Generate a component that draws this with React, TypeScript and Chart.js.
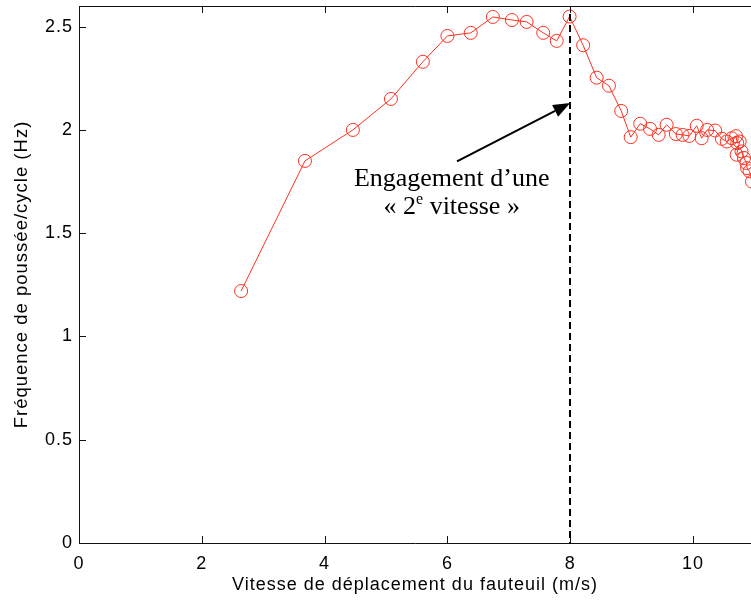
import React, { useEffect, useRef } from 'react';
import { Chart, registerables } from 'chart.js';

Chart.register(...registerables);

// Data
const vitesse = [
  2.64, 3.68, 4.46, 5.08, 5.6, 6.0, 6.38, 6.74, 7.05, 7.29, 7.56, 7.78, 7.99,
  8.21, 8.43, 8.63, 8.83, 8.985, 9.14, 9.3, 9.44, 9.57, 9.72, 9.83, 9.94, 10.06,
  10.14, 10.23, 10.36, 10.47, 10.55, 10.63, 10.7, 10.72, 10.76, 10.71, 10.79,
  10.83, 10.87, 10.88, 10.92, 10.96, 11.15,
];
const frequence = [
  1.22, 1.85, 2.0, 2.15, 2.33, 2.455, 2.47, 2.547, 2.532, 2.523, 2.47, 2.431,
  2.549, 2.41, 2.253, 2.214, 2.092, 1.965, 2.03, 2.005, 1.976, 2.025, 1.98,
  1.976, 1.971, 2.02, 1.96, 2.0, 1.997, 1.957, 1.944, 1.96, 1.97, 1.936, 1.944,
  1.88, 1.896, 1.864, 1.84, 1.815, 1.8, 1.75, 1.5,
];
const xTicks = [0, 2, 4, 6, 8, 10];
const yTicks = [0, 0.5, 1, 1.5, 2, 2.5];
const xRange = [0, 10.944];
const yRange = [0, 2.6];
const xTitle = 'Vitesse de déplacement du fauteuil (m/s)';
const yTitle = 'Fréquence de poussée/cycle (Hz)';

// Annotation (data coordinates)
const changeVitesse = 8;
const arrowTail = [6.156, 1.848];
const arrowTip = [8.0, 2.13];
const noteAnchor = [6.07, 1.727, 1.592];
const noteLine1 = 'Engagement d’une';
const noteLine2 = ['« 2', 'e', ' vitesse »'];

const RED = 'rgb(255,48,32)';
const SANS = '"Liberation Sans", Arial, sans-serif';
const SERIF = '"Liberation Serif", "Times New Roman", serif';

const framePlugin = {
  id: 'frame',
  beforeDraw(chart: any) {
    chart.ctx.letterSpacing = '1px';
  },
  afterDraw(chart: any) {
    const { ctx, chartArea: a, scales } = chart;
    const x = scales.x;
    const y = scales.y;
    ctx.save();
    ctx.letterSpacing = '0px';
    ctx.strokeStyle = '#111';
    ctx.lineWidth = 1;
    ctx.setLineDash([]);
    ctx.beginPath();
    ctx.moveTo(a.left + 0.5, a.top + 0.5);
    ctx.lineTo(a.right + 1, a.top + 0.5);
    ctx.moveTo(a.left + 0.5, a.top + 0.5);
    ctx.lineTo(a.left + 0.5, a.bottom + 0.5);
    ctx.lineTo(a.right + 1, a.bottom + 0.5);
    ctx.stroke();
    const tl = 7;
    ctx.beginPath();
    for (const v of xTicks) {
      const px = Math.round(x.getPixelForValue(v)) + 0.5;
      ctx.moveTo(px, a.bottom);
      ctx.lineTo(px, a.bottom - tl);
      ctx.moveTo(px, a.top);
      ctx.lineTo(px, a.top + tl);
    }
    for (const v of yTicks) {
      const py = Math.round(y.getPixelForValue(v)) + 0.5;
      ctx.moveTo(a.left, py);
      ctx.lineTo(a.left + tl, py);
    }
    ctx.stroke();

    // dashed vertical line
    const vx = Math.round(x.getPixelForValue(changeVitesse));
    ctx.strokeStyle = '#000';
    ctx.lineWidth = 2;
    ctx.setLineDash([7, 4]);
    ctx.beginPath();
    ctx.moveTo(vx, a.top + 8);
    ctx.lineTo(vx, a.bottom);
    ctx.stroke();
    ctx.setLineDash([]);

    // arrow
    const x0 = x.getPixelForValue(arrowTail[0]);
    const y0 = y.getPixelForValue(arrowTail[1]);
    const x1 = x.getPixelForValue(arrowTip[0]);
    const y1 = y.getPixelForValue(arrowTip[1]);
    const ang = Math.atan2(y1 - y0, x1 - x0);
    const hl = 17;
    const hw = 6.5;
    const bx = x1 - hl * Math.cos(ang);
    const by = y1 - hl * Math.sin(ang);
    ctx.lineWidth = 2;
    ctx.beginPath();
    ctx.moveTo(x0, y0);
    ctx.lineTo(bx, by);
    ctx.stroke();
    ctx.fillStyle = '#000';
    ctx.beginPath();
    ctx.moveTo(x1, y1);
    ctx.lineTo(bx + hw * Math.sin(ang), by - hw * Math.cos(ang));
    ctx.lineTo(bx - hw * Math.sin(ang), by + hw * Math.cos(ang));
    ctx.closePath();
    ctx.fill();

    // note text
    const cx = x.getPixelForValue(noteAnchor[0]);
    const b1 = y.getPixelForValue(noteAnchor[1]);
    const b2 = y.getPixelForValue(noteAnchor[2]);
    ctx.fillStyle = '#000';
    ctx.textBaseline = 'alphabetic';
    ctx.textAlign = 'center';
    ctx.font = `26px ${SERIF}`;
    ctx.fillText(noteLine1, cx, b1);
    ctx.textAlign = 'left';
    const big = `26px ${SERIF}`;
    const small = `16px ${SERIF}`;
    ctx.font = big;
    const w1 = ctx.measureText(noteLine2[0]).width;
    const w3 = ctx.measureText(noteLine2[2]).width;
    ctx.font = small;
    const w2 = ctx.measureText(noteLine2[1]).width;
    let sx = cx - (w1 + w2 + w3) / 2;
    ctx.font = big;
    ctx.fillText(noteLine2[0], sx, b2);
    sx += w1;
    ctx.font = small;
    ctx.fillText(noteLine2[1], sx, b2 - 10);
    sx += w2;
    ctx.font = big;
    ctx.fillText(noteLine2[2], sx, b2);
    ctx.restore();
  },
};

export default function App() {
  const ref = useRef<HTMLCanvasElement>(null);
  useEffect(() => {
    if (!ref.current) return;
    const points = vitesse.map((v, i) => ({ x: v, y: frequence[i] }));
    const chart = new Chart(ref.current, {
      type: 'line',
      data: {
        datasets: [
          {
            data: points,
            borderColor: RED,
            borderWidth: 1,
            pointStyle: 'circle',
            pointRadius: 6.5,
            pointBorderWidth: 1,
            pointBorderColor: RED,
            pointBackgroundColor: 'rgba(0,0,0,0)',
            tension: 0,
            fill: false,
          },
        ],
      },
      options: {
        responsive: false,
        animation: false,
        events: [],
        layout: { autoPadding: false, padding: { top: 6, left: 0, right: 0, bottom: 0 } },
        plugins: { legend: { display: false }, tooltip: { enabled: false } },
        scales: {
          x: {
            type: 'linear',
            min: xRange[0],
            max: xRange[1],
            afterBuildTicks: (s: any) => {
              s.ticks = xTicks.map((v) => ({ value: v }));
            },
            afterFit: (s: any) => {
              s.height = 57;
              s.paddingLeft = 0;
              s.paddingRight = 0;
              s.paddingTop = 0;
              s.paddingBottom = 0;
            },
            grid: { display: false, drawTicks: false },
            border: { display: false },
            ticks: {
              color: '#000',
              padding: 10,
              maxRotation: 0,
              font: { family: SANS, size: 18 },
              callback: (v: any) => String(v),
            },
            title: {
              display: true,
              text: xTitle,
              color: '#000',
              font: { family: SANS, size: 18 },
              padding: { top: 0, bottom: 4 },
            },
          },
          y: {
            type: 'linear',
            min: yRange[0],
            max: yRange[1],
            afterBuildTicks: (s: any) => {
              s.ticks = yTicks.map((v) => ({ value: v }));
            },
            afterFit: (s: any) => {
              s.width = 79;
              s.paddingLeft = 0;
              s.paddingRight = 0;
              s.paddingTop = 0;
              s.paddingBottom = 0;
            },
            grid: { display: false, drawTicks: false },
            border: { display: false },
            ticks: {
              color: '#000',
              padding: 6,
              font: { family: SANS, size: 18 },
              callback: (v: any) => String(v),
            },
            title: {
              display: true,
              text: yTitle,
              color: '#000',
              font: { family: SANS, size: 18.5 },
              padding: { top: 11, bottom: 0 },
            },
          },
        },
      },
      plugins: [framePlugin],
    });
    return () => chart.destroy();
  }, []);
  return (
    <div style={{ position: 'absolute', left: 0, top: 0, width: 751, height: 600, background: '#fff' }}>
      <canvas ref={ref} width={751} height={600} style={{ display: 'block' }} />
    </div>
  );
}
